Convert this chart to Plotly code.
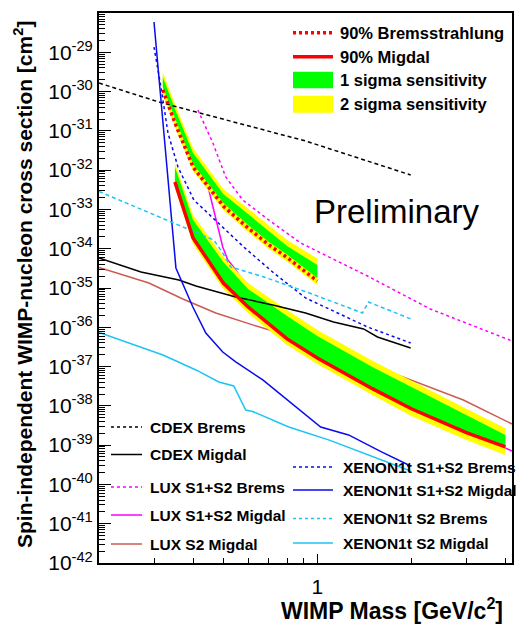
import numpy as np
import plotly.graph_objects as go

# ---------------- data (WIMP mass in GeV, cross section in cm^2) ----------------
cdex_brems_m = [0.2, 0.311, 0.409, 0.917, 1.99]
cdex_brems_s = [1.65e-30, 5.43e-31, 3.02e-31, 5.52e-32, 7.53e-33]

cdex_migdal_m = [0.2, 0.2726, 0.3605, 0.4086, 0.548, 0.720, 0.917, 1.127, 1.406, 1.558, 1.99]
cdex_migdal_s = [5.81e-35, 2.56e-35, 1.60e-35, 1.13e-35, 5.91e-36, 3.70e-36, 2.31e-36,
                 1.36e-36, 9.06e-37, 5.67e-37, 2.98e-37]

lux_brems_m = [0.4146, 0.463, 0.509, 0.577, 0.699, 0.884, 1.447, 2.30, 4.2]
lux_brems_s = [3.40e-31, 4.91e-32, 6.70e-33, 1.74e-33, 5.39e-34, 1.40e-34, 2.02e-35, 2.92e-36, 4.49e-37]

lux_migdal_m = [0.446, 0.473, 0.498, 0.517, 0.536, 0.659, 0.884, 1.278, 1.99, 3.02, 4.2]
lux_migdal_s = [4.0e-33, 6.43e-34, 1.11e-34, 5.16e-35, 3.64e-35, 3.70e-36, 4.76e-37,
                7.29e-38, 1.05e-38, 2.30e-39, 7.11e-40]

lux_s2_m = [0.2, 0.289, 0.371, 0.473, 0.621, 0.736, 1.345, 2.934, 4.2]
lux_s2_s = [3.33e-35, 1.34e-35, 5.26e-36, 2.31e-36, 1.15e-36, 7.60e-37, 1.5e-37, 1.41e-38, 3.46e-39]

xe_brems_m = [0.300, 0.3157, 0.3325, 0.358, 0.4025, 0.480, 0.581, 0.725, 0.917, 1.447, 1.99]
xe_brems_s = [1.36e-29, 1.31e-30, 8.83e-32, 1.20e-32, 1.74e-33, 4.52e-34, 1.11e-34,
              2.42e-35, 5.57e-36, 1.02e-36, 3.99e-37]

xe_migdal_m = [0.300, 0.3526, 0.3995, 0.4396, 0.498, 0.548, 0.669, 0.917, 1.025, 1.259, 1.605, 1.99]
xe_migdal_s = [5.9e-29, 3.24e-35, 3.29e-36, 7.16e-37, 2.35e-37, 1.31e-37, 4.56e-38,
               5.86e-39, 2.90e-39, 1.82e-39, 6.71e-40, 2.95e-40]

xe_s2_brems_m = [0.2, 0.345, 0.466, 0.498, 0.528, 0.674, 0.924, 1.395, 1.458, 1.99]
xe_s2_brems_s = [2.86e-33, 4.52e-34, 1.67e-34, 7.8e-35, 3.43e-35, 1.91e-35, 7.93e-36,
                 2.31e-36, 4.41e-36, 1.63e-36]

xe_s2_migdal_m = [0.2, 0.3205, 0.4086, 0.484, 0.540, 0.590, 0.621, 0.810, 1.087, 1.395, 1.99]
xe_s2_migdal_s = [7.38e-37, 1.97e-37, 8.20e-38, 4.06e-38, 3.21e-38, 7.86e-39, 7.20e-39,
                  2.90e-39, 1.36e-39, 6.33e-40, 2.20e-40]

# Bremsstrahlung sensitivity band
brems_m = [0.32, 0.35, 0.4, 0.5, 0.6, 0.7, 0.8, 1.0]
brems_90 = [1.10e-30, 1.61e-31, 1.20e-32, 1.22e-33, 3.37e-34, 1.25e-34, 5.98e-35, 1.51e-35]
brems_2s_hi = [3.15e-30, 4.83e-31, 3.66e-32, 3.32e-33, 1.05e-33, 3.97e-34, 1.67e-34, 5.65e-35]
brems_1s_hi = [2.35e-30, 3.61e-31, 2.74e-32, 2.47e-33, 7.66e-34, 2.83e-34, 1.17e-34, 3.85e-35]
brems_1s_lo = [1.31e-30, 2.01e-31, 1.44e-32, 1.46e-33, 4.02e-34, 1.48e-34, 7.13e-35, 1.80e-35]
brems_2s_lo = [8.18e-31, 1.26e-31, 9.53e-33, 9.68e-34, 2.67e-34, 9.84e-35, 4.73e-35, 1.19e-35]

# Migdal sensitivity band
mig_m = [0.35, 0.4, 0.5, 0.6, 0.8, 1.0, 1.5, 2.0, 3.0, 4.0]
mig_90 = [5.00e-33, 1.88e-34, 1.34e-35, 3.29e-36, 5.05e-37, 1.66e-37, 2.74e-38, 8.44e-39, 2.08e-39, 9.0e-40]
mig_2s_hi = [1.52e-32, 7.23e-34, 6.35e-35, 1.34e-35, 2.76e-36, 8.55e-37, 1.40e-37, 4.46e-38, 8.49e-39, 2.69e-39]
mig_1s_hi = [1.20e-32, 5.39e-34, 4.60e-35, 9.45e-36, 1.94e-36, 6.01e-37, 9.77e-38, 3.03e-38, 5.86e-39, 1.82e-39]
mig_1s_lo = [4.71e-33, 1.77e-34, 1.27e-35, 3.10e-36, 4.76e-37, 1.56e-37, 2.54e-38, 7.87e-39, 1.93e-39, 8.49e-40]
mig_2s_lo = [3.52e-33, 1.32e-34, 9.45e-36, 2.31e-36, 3.55e-37, 1.17e-37, 1.90e-38, 5.53e-39, 1.36e-39, 5.62e-40]

y_exponents = list(range(28, 43))
x_major = [1]
x_major_text = ["1"]

# ---------------- styles ----------------
FONT = "Liberation Sans, Arial, Helvetica, sans-serif"
C_BLACK = "#000000"
C_MAG = "#ff00ff"
C_LUXS2 = "#cc5a52"
C_BLUE = "#0a0aee"
C_CYAN = "#1cc4f4"
C_RED = "#ff0000"
C_GREEN = "#00ff00"
C_YELLOW = "#ffff00"

fig = go.Figure()


def line(xs, ys, color, width=1.5, dash="solid"):
    fig.add_trace(go.Scatter(x=xs, y=ys, mode="lines",
                             line=dict(color=color, width=width, dash=dash),
                             hoverinfo="skip", showlegend=False))


def band(xs, hi, lo, color):
    fig.add_trace(go.Scatter(x=list(xs) + list(xs)[::-1], y=list(hi) + list(lo)[::-1],
                             mode="lines", fill="toself", fillcolor=color,
                             line=dict(width=0, color=color),
                             hoverinfo="skip", showlegend=False))


# LUX curves (drawn below the bands)
line(lux_s2_m, lux_s2_s, C_LUXS2, 1.5)
line(lux_migdal_m, lux_migdal_s, C_MAG, 1.5)
line(lux_brems_m, lux_brems_s, C_MAG, 1.5, "3px,3px")

# bands
band(brems_m, brems_2s_hi, brems_2s_lo, C_YELLOW)
band(brems_m, brems_1s_hi, brems_1s_lo, C_GREEN)
band(mig_m, mig_2s_hi, mig_2s_lo, C_YELLOW)
band(mig_m, mig_1s_hi, mig_1s_lo, C_GREEN)

# CDEX, XENON
line(cdex_brems_m, cdex_brems_s, C_BLACK, 1.5, "4px,3px")
line(cdex_migdal_m, cdex_migdal_s, C_BLACK, 1.5)
line(xe_brems_m, xe_brems_s, C_BLUE, 1.5, "3px,3px")
line(xe_migdal_m, xe_migdal_s, C_BLUE, 1.5)
line(xe_s2_brems_m, xe_s2_brems_s, C_CYAN, 1.5, "4px,3px")
line(xe_s2_migdal_m, xe_s2_migdal_s, C_CYAN, 1.5)

# 90% lines
line(mig_m, mig_90, C_RED, 3.5)
line(brems_m, brems_90, C_RED, 3.5, "3px,3px")

# ---------------- axes ----------------
L, R, T, B = 99, 512, 13, 563
W, H = 525, 626


def px(x):
    return (x - L) / (R - L)


def py(y):
    return (B - y) / (B - T)


x_minor = [0.3, 0.4, 0.5, 0.6, 0.7, 0.8, 0.9, 2, 3, 4]
y_minor = []
for k in y_exponents[1:]:
    for j in range(2, 10):
        y_minor.append(j * 10.0 ** (-k))

fig.update_layout(
    width=W, height=H,
    margin=dict(l=L, r=W - R, t=T, b=H - B),
    paper_bgcolor="white", plot_bgcolor="white",
    showlegend=False,
    font=dict(family=FONT, color="black"),
)
fig.update_xaxes(
    type="log", range=[np.log10(0.2), np.log10(4.2)],
    showline=True, linecolor="black", linewidth=2, mirror=True,
    showgrid=False, zeroline=False,
    ticks="inside", ticklen=9, tickwidth=1, tickcolor="black",
    tickmode="array", tickvals=x_major, ticktext=x_major_text,
    tickfont=dict(size=21, family=FONT, color="black"),
    ticklabelstandoff=4,
    minor=dict(ticks="inside", ticklen=5, tickwidth=1, tickcolor="black",
               tickmode="array", tickvals=x_minor, showgrid=False),
)
fig.update_yaxes(
    type="log", range=[-42, -28],
    showline=True, linecolor="black", linewidth=2, mirror=True,
    showgrid=False, zeroline=False,
    ticks="inside", ticklen=12, tickwidth=1, tickcolor="black",
    tickmode="array", tickvals=[10.0 ** (-k) for k in y_exponents],
    ticktext=[f"10<sup>-{k}</sup>" for k in y_exponents],
    tickfont=dict(size=21, family=FONT, color="black"),
    minor=dict(ticks="inside", ticklen=6, tickwidth=1, tickcolor="black",
               tickmode="array", tickvals=y_minor, showgrid=False),
)

# ---------------- legends / text ----------------
shapes = []
annotations = []


def leg_line(x0, x1, y, color, width=1.5, dash="solid"):
    shapes.append(dict(type="line", xref="paper", yref="paper",
                       x0=px(x0), x1=px(x1), y0=py(y), y1=py(y),
                       line=dict(color=color, width=width, dash=dash)))


def leg_box(x0, x1, y0, y1, color):
    shapes.append(dict(type="rect", xref="paper", yref="paper",
                       x0=px(x0), x1=px(x1), y0=py(y1), y1=py(y0),
                       fillcolor=color, line=dict(width=0)))


def text(x, y, s, size, bold=True, xanchor="left"):
    annotations.append(dict(xref="paper", yref="paper", x=px(x), y=py(y),
                            text=f"<b>{s}</b>" if bold else s, showarrow=False,
                            xanchor=xanchor, yanchor="middle",
                            font=dict(size=size, family=FONT, color="black")))


# top-right legend
leg_line(293, 333, 32.7, C_RED, 3.5, "3px,3px")
text(338, 32.7, "90% Bremsstrahlung", 16.5)
leg_line(293, 333, 56.7, C_RED, 3.5)
text(338, 56.7, "90% Migdal", 16.5)
leg_box(293, 333, 71.7, 88.3, C_GREEN)
text(338, 80, "1 sigma sensitivity", 16.5)
leg_box(293, 333, 95.7, 112.7, C_YELLOW)
text(338, 104, "2 sigma sensitivity", 16.5)

# bottom-left legend
leg_line(111, 142, 427, C_BLACK, 1.5, "3px,3px")
text(148, 427, "CDEX Brems", 15.5)
leg_line(111, 142, 454.5, C_BLACK, 1.5)
text(148, 454.5, "CDEX Migdal", 15.5)
leg_line(111, 142, 487, C_MAG, 1.5, "3px,3px")
text(148, 487, "LUX S1+S2 Brems", 15.5)
leg_line(111, 142, 515, C_MAG, 1.5)
text(148, 515, "LUX S1+S2 Migdal", 15.5)
leg_line(111, 142, 544, C_LUXS2, 1.5)
text(148, 544, "LUX S2 Migdal", 15.5)

# bottom-right legend
leg_line(293, 333, 467, C_BLUE, 1.5, "3px,3px")
text(341, 467, "XENON1t S1+S2 Brems", 15.5)
leg_line(293, 333, 490, C_BLUE, 1.5)
text(341, 490, "XENON1t S1+S2 Migdal", 15.5)
leg_line(293, 333, 518.5, C_CYAN, 1.5, "3px,3px")
text(341, 518.5, "XENON1t S2 Brems", 15.5)
leg_line(293, 333, 543, C_CYAN, 1.5)
text(341, 543, "XENON1t S2 Migdal", 15.5)

# Preliminary
text(397, 211, "Preliminary", 33, bold=False, xanchor="center")

# axis titles
annotations.append(dict(xref="paper", yref="paper", x=px(505), y=py(609),
                        text="<b>WIMP Mass [GeV/c<sup>2</sup>]</b>", showarrow=False,
                        xanchor="right", yanchor="middle",
                        font=dict(size=23, family=FONT, color="black")))
annotations.append(dict(xref="paper", yref="paper", x=px(23), y=py(285),
                        text="<b>Spin-independent WIMP-nucleon cross section [cm<sup>2</sup>]</b>",
                        showarrow=False, textangle=-90,
                        xanchor="center", yanchor="middle",
                        font=dict(size=21, family=FONT, color="black")))

fig.update_layout(shapes=shapes, annotations=annotations)

fig.write_html("out.html")
